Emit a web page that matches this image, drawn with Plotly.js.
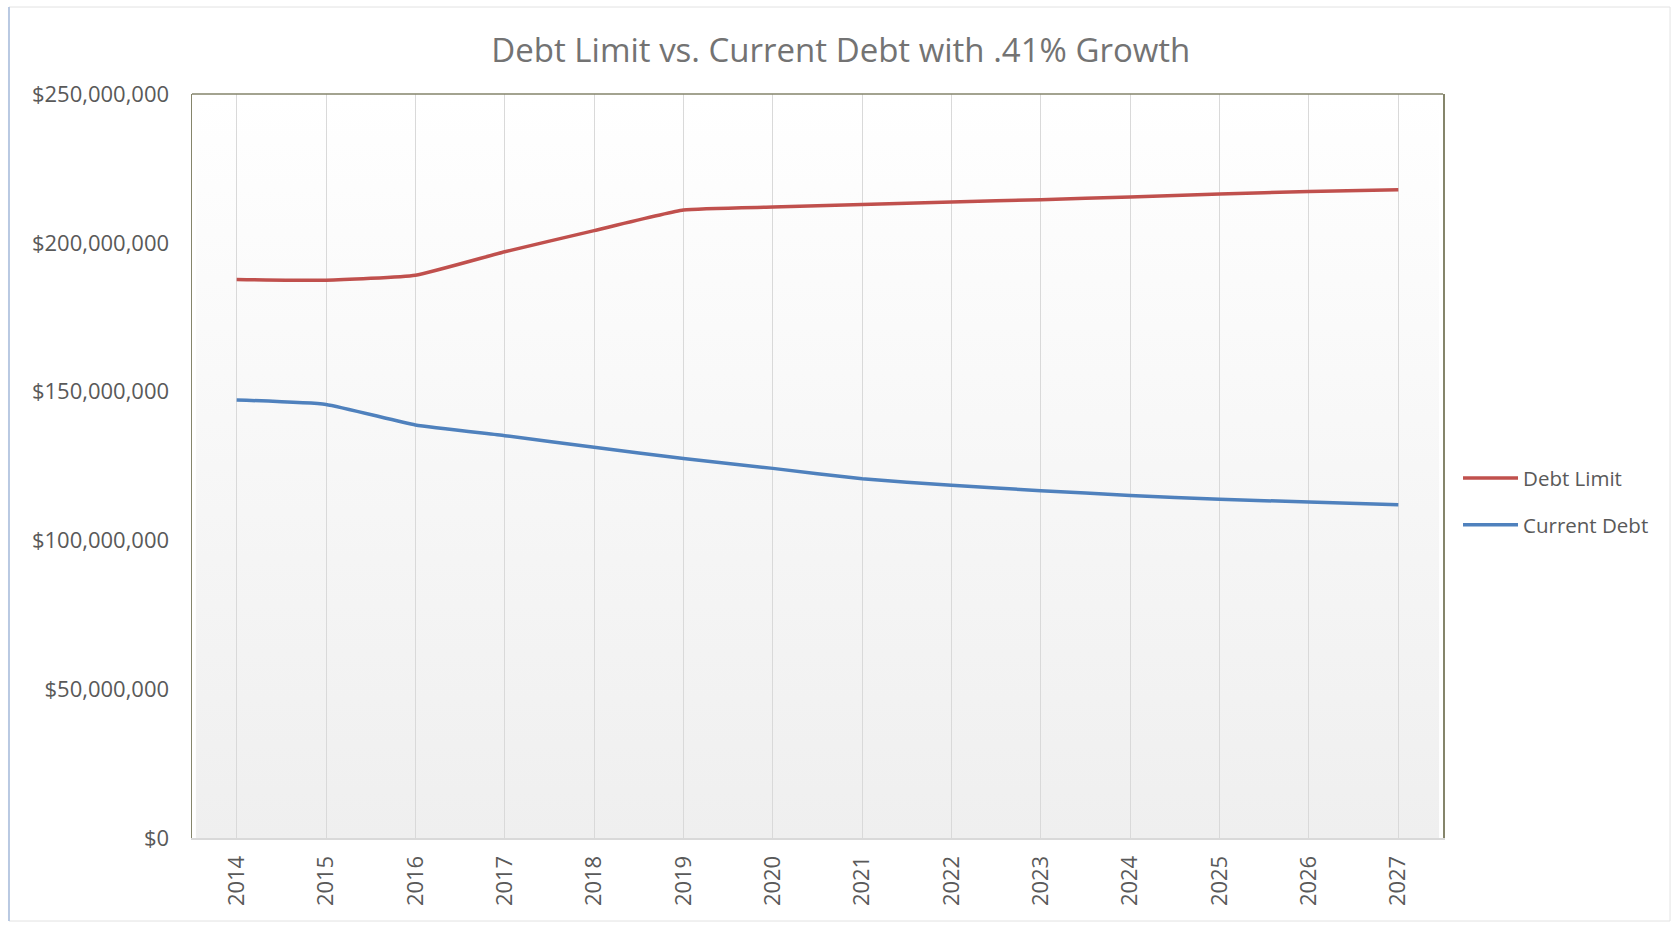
<!DOCTYPE html>
<html>
<head>
<meta charset="utf-8">
<script src="https://cdn.plot.ly/plotly-3.0.1.min.js"></script>
<style>
  html, body { margin: 0; padding: 0; background: #ffffff; }
  #chart { width: 1675px; height: 926px; }
</style>
</head>
<body>
<div id="chart"></div>
<script>
// ---- data ----
const years = ["2014","2015","2016","2017","2018","2019","2020","2021","2022","2023","2024","2025","2026","2027"];
const debtLimit = [187.7e6, 187.4e6, 189.1e6, 197.0e6, 204.1e6, 211.0e6, 212.0e6, 212.9e6, 213.7e6, 214.5e6, 215.4e6, 216.4e6, 217.2e6, 217.8e6];
const currentDebt = [147.2e6, 145.7e6, 138.8e6, 135.2e6, 131.3e6, 127.5e6, 124.2e6, 120.7e6, 118.5e6, 116.7e6, 115.1e6, 113.8e6, 112.9e6, 112.0e6];
const yTicks = [0, 50e6, 100e6, 150e6, 200e6, 250e6];
const titleText = "Debt Limit vs. Current Debt with .41% Growth";
const seriesNames = ["Debt Limit", "Current Debt"];

const FONT = "'Open Sans', 'Noto Sans', sans-serif";
const TXT = "#595959";

const gradSvg = '<svg xmlns="http://www.w3.org/2000/svg" width="100" height="100" preserveAspectRatio="none" viewBox="0 0 100 100">' +
  '<defs><linearGradient id="g" x1="0" y1="0" x2="0" y2="1">' +
  '<stop offset="0" stop-color="#ffffff"/><stop offset="1" stop-color="#efefef"/>' +
  '</linearGradient></defs><rect x="0" y="0" width="100" height="100" fill="url(#g)"/></svg>';
const gradUri = "data:image/svg+xml;charset=utf-8," + encodeURIComponent(gradSvg);

const traces = [
  {
    type: "scatter", mode: "lines", name: seriesNames[0], legendgroup: "a",
    x: years, y: debtLimit,
    line: { color: "#c0504d", width: 3.5, shape: "spline", smoothing: 0.4 }
  },
  {
    type: "scatter", mode: "lines", name: seriesNames[1], legendgroup: "b",
    x: years, y: currentDebt,
    line: { color: "#4f81bd", width: 3.5, shape: "spline", smoothing: 0.4 }
  }
];

const layout = {
  width: 1675, height: 926,
  margin: { l: 192, r: 232, t: 94, b: 88 },
  paper_bgcolor: "#ffffff",
  plot_bgcolor: "rgba(0,0,0,0)",
  font: { family: FONT, color: TXT, size: 20 },
  title: {
    text: titleText,
    font: { family: FONT, size: 33, color: "#737373" },
    xref: "container", x: 0.502, xanchor: "center",
    yref: "container", y: 0.946, yanchor: "middle"
  },
  xaxis: {
    type: "category",
    range: [-0.5, 13.5],
    showgrid: true, gridcolor: "#d9d9d9", gridwidth: 1,
    showline: true, linecolor: "#d9d9d9", linewidth: 2,
    ticks: "", tickangle: -90,
    ticklabelstandoff: 7,
    tickfont: { family: FONT, size: 22, color: TXT },
    zeroline: false, fixedrange: true
  },
  yaxis: {
    range: [0, 250e6],
    tickvals: yTicks,
    tickformat: "$,.0f",
    showgrid: false,
    showline: true, linecolor: "#85856b", linewidth: 1.5, mirror: true,
    ticks: "",
    ticklabelstandoff: 17,
    tickfont: { family: FONT, size: 22, color: TXT },
    zeroline: false, fixedrange: true
  },
  showlegend: true,
  legend: {
    x: 1.012, xanchor: "left",
    y: 0.452, yanchor: "middle",
    font: { family: FONT, size: 20.5, color: TXT },
    bgcolor: "rgba(0,0,0,0)",
    traceorder: "grouped",
    tracegroupgap: 17,
    itemwidth: 55
  },
  images: [{
    source: gradUri,
    xref: "paper", yref: "paper",
    x: 0.003, y: 1, sizex: 0.994, sizey: 1,
    xanchor: "left", yanchor: "top",
    sizing: "stretch", layer: "below"
  }],
  shapes: [
    { type: "line", xref: "paper", yref: "paper", x0: 0, x1: 1, y0: 1, y1: 1,
      line: { color: "#85856b", width: 1.5 } },
    { type: "rect", xref: "paper", yref: "paper",
      x0: -0.1463, x1: 1.1815, y0: -0.1116, y1: 1.1169,
      line: { color: "#e3e3e3", width: 1 }, fillcolor: "rgba(0,0,0,0)", layer: "below" },
    { type: "line", xref: "paper", yref: "paper",
      x0: -0.1463, x1: -0.1463, y0: -0.1116, y1: 1.1169,
      line: { color: "#b9c9e2", width: 2 }, layer: "below" }
  ]
};

Plotly.newPlot("chart", traces, layout, { displayModeBar: false, staticPlot: true });
</script>
</body>
</html>
